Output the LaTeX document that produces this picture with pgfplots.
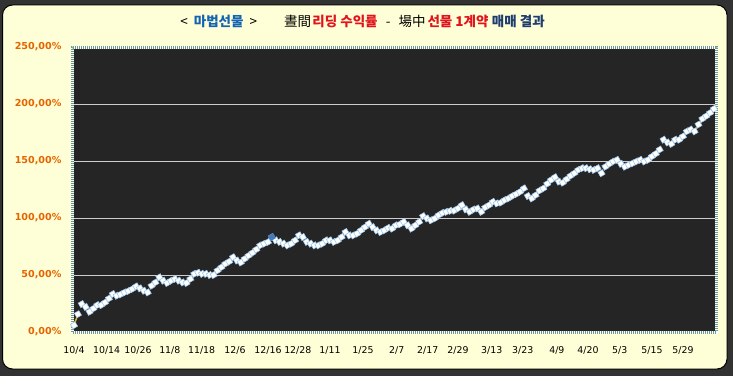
\documentclass[border=0pt]{standalone}
\usepackage{fontspec}
\usepackage{pgfplots}
\usepackage{pgfplotstable}
\pgfplotsset{compat=1.18}
\newfontfamily\tickfont{DejaVu Sans}
\newfontfamily\krfont{Noto Sans CJK KR}
\definecolor{panel}{RGB}{255,255,215}
\definecolor{outer}{RGB}{50,50,50}
\definecolor{plotbg}{RGB}{37,37,37}
\definecolor{gridc}{RGB}{205,205,205}
\definecolor{ylab}{RGB}{230,100,0}
\definecolor{frameg}{RGB}{110,155,140}
\definecolor{mblue}{RGB}{20,100,180}
\definecolor{mred}{RGB}{225,20,30}
\definecolor{mnavy}{RGB}{30,60,110}
\definecolor{mkedge}{RGB}{160,200,235}
\definecolor{hlblue}{RGB}{70,120,190}
\definecolor{hlyel}{RGB}{220,180,20}

\pgfplotstableread{
x y
0 5.9
1 15.6
2 24.5
3 22
4 17.7
5 20.6
6 23.6
7 23.6
8 25.9
9 29.4
10 33.3
11 31.8
12 33
13 34.7
14 36
15 37.7
16 40
17 38.3
18 36.2
19 34.7
20 40.6
21 43.5
22 48
23 45
24 43
25 45
26 46.5
27 45
28 43.5
29 43
30 46.5
31 51
32 52
33 51
34 51
35 50
36 50
37 54
38 56.8
39 59.8
40 61.8
41 65.6
42 62.7
43 61
44 64.2
45 67
46 69.5
47 72.4
48 76
49 77.5
50 78.9
51 83.3
52 80.4
53 79
54 77.5
55 76
56 77.5
57 80.4
58 84.8
59 83.3
60 79
61 77.5
62 76
63 76
64 77.5
65 80.4
66 80.4
67 79
68 80.4
69 83.3
70 87.7
71 84.8
72 84.8
73 86.3
74 89.2
75 92
76 95
77 92
78 89.2
79 87.7
80 89.2
81 91.3
82 90.7
83 93.6
84 94.5
85 96.6
86 93.6
87 90.7
88 93.6
89 96.6
90 101.6
91 99.6
92 98
93 99.6
94 102.5
95 104.5
96 105.4
97 106.3
98 106.5
99 108.4
100 111.3
101 107.5
102 105.4
103 107.5
104 108.4
105 105.4
106 109.3
107 111.3
108 114.2
109 112.8
110 113.5
111 115.7
112 117.2
113 119.3
114 121
115 123
116 126
117 119.3
118 117.2
119 120
120 124
121 126
122 130
123 133.4
124 135.8
125 131.9
126 131
127 134
128 137
129 139.3
130 142.2
131 143.7
132 143.7
133 142.8
134 142.2
135 143.7
136 139.3
137 145
138 147.5
139 149.6
140 151
141 147.5
142 145
143 146.6
144 148
145 149.6
146 151
147 149.6
148 151
149 154
150 156.4
151 160
152 168.7
153 166.3
154 165
155 168.7
156 168.7
157 171.6
158 176
159 177.6
160 176
161 182
162 187
163 189.4
164 192.3
165 195.8
}\data

\begin{document}
\begin{tikzpicture}[x=1pt,y=1pt]
\useasboundingbox (0,0) rectangle (733,376);
\fill[outer] (0,0) rectangle (733,376);
\draw[fill=panel, draw=black, line width=1pt, rounded corners=10pt] (2.5,7) rectangle (727,371);
\node[font=\krfont\fontsize{13.5}{15}\selectfont, anchor=center, inner sep=0pt] at (362.5,355)
 {<\hspace{0.45em}{\bfseries\textcolor{mblue}{마법선물}}\hspace{0.45em}>\hspace{2em}晝間\hspace{0.1em}{\bfseries\textcolor{mred}{리딩 수익률}}\hspace{0.6em}-\hspace{0.6em}場中\hspace{0.15em}{\bfseries\textcolor{mred}{선물 1계약}}\hspace{0.25em}{\bfseries\textcolor{mnavy}{매매 결과}}};
\begin{axis}[
  at={(72pt,44pt)}, anchor=south west,
  scale only axis, width=644pt, height=285pt,
  xmin=-0.52, xmax=165.52, ymin=0, ymax=250,
  clip=false,
  axis background/.style={fill=plotbg},
  axis line style={draw=none},
  major tick length=0pt,
  ytick={0,50,100,150,200,250},
  yticklabels={{0,00\%},{50,00\%},{100,00\%},{150,00\%},{200,00\%},{250,00\%}},
  yticklabel style={font=\tickfont\bfseries\fontsize{9.6}{11}\selectfont, text=ylab, anchor=east, xshift=-7pt},
  xtick={0,8.4,16.5,24.7,32.9,41.5,50,57.7,66,74.5,83.2,91.2,99,107.7,115.7,124.5,132.5,140.7,149,157},
  xticklabels={10/4,10/14,10/26,11/8,11/18,12/6,12/16,12/28,1/11,1/25,2/7,2/17,2/29,3/13,3/23,4/9,4/20,5/3,5/15,5/29},
  xticklabel style={font=\tickfont\fontsize{9.4}{11}\selectfont, text=black, anchor=north, yshift=-11pt},
  ymajorgrids, grid style={gridc, line width=1pt},
]
\draw[white, line width=3pt] (rel axis cs:0,0) rectangle (rel axis cs:1,1);
\draw[frameg, line width=3pt, dash pattern=on 1pt off 1pt] (rel axis cs:0,0) rectangle (rel axis cs:1,1);
\addplot[hlyel, line width=1.5pt] coordinates {(0,5.9)(1,15.6)};
\addplot[hlyel, line width=1.5pt] coordinates {(160,176)(162,187)};
\addplot[only marks, mark=square*, mark size=2.6pt, mark options={rotate=30, fill=white, draw=mkedge, line width=0.6pt}] table[x=x,y=y]{\data};
\addplot[only marks, mark=square*, mark size=2.6pt, mark options={rotate=30, fill=hlblue, draw=hlblue, line width=0.6pt}] coordinates {(51,83.3)};
\end{axis}
\end{tikzpicture}
\end{document}
